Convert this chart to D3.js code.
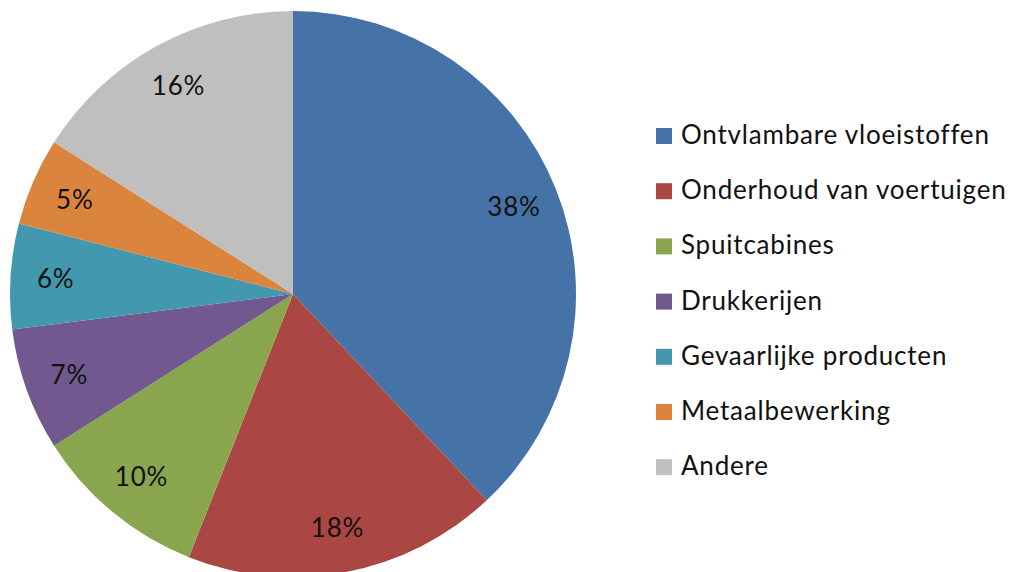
<!DOCTYPE html>
<html><head><meta charset="utf-8">
<script src="https://cdn.jsdelivr.net/npm/d3@7"></script>
<style>body{margin:0;background:#fff;}svg{display:block;}</style>
</head><body>
<svg id="c" width="1016" height="572"></svg>
<script>
const categories = ["Ontvlambare vloeistoffen","Onderhoud van voertuigen","Spuitcabines","Drukkerijen","Gevaarlijke producten","Metaalbewerking","Andere"];
const values = [38, 18, 10, 7, 6, 5, 16];
const colors = ["#4572A7","#AA4643","#89A54E","#71588F","#4198AF","#DB843D","#BFBFBF"];

const svg = d3.select("#c");
const cx = 293, cy = 294, r = 283;
const font = "Lato, 'Open Sans', sans-serif";
const pie = d3.pie().sort(null).value(d => d)(values);
const arc = d3.arc().innerRadius(0).outerRadius(r);
const labelArc = d3.arc().innerRadius(r*0.84).outerRadius(r*0.84);
const g = svg.append("g").attr("transform", `translate(${cx},${cy})`);
g.selectAll("path").data(pie).join("path")
  .attr("d", arc).attr("fill", (d,i) => colors[i]);
const total = d3.sum(values);
g.selectAll("text").data(pie).join("text")
  .attr("transform", d => `translate(${labelArc.centroid(d)})`)
  .attr("text-anchor","middle").attr("dy","0.35em")
  .style("font-family", font).style("font-size","26px").style("letter-spacing","0.8px").attr("fill","#111")
  .text(d => Math.round(d.data/total*100) + "%");

const lg = svg.append("g").attr("transform","translate(656,128)");
const rows = lg.selectAll("g").data(categories).join("g")
  .attr("transform",(d,i)=>`translate(0,${i*55.2})`);
rows.append("rect").attr("width",16).attr("height",16).attr("fill",(d,i)=>colors[i]);
rows.append("text").attr("x",25).attr("y",16)
  .style("font-family", font).style("font-size","26px").style("letter-spacing","0.8px").attr("fill","#111").text(d=>d);
</script>
</body></html>
